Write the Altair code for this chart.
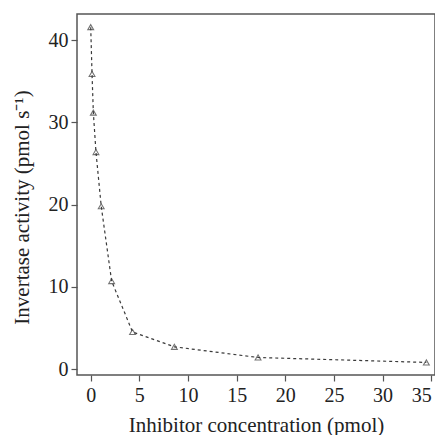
import altair as alt
import pandas as pd

conc = [0, 0.135, 0.27, 0.54, 1.08, 2.15, 4.3, 8.6, 17.2, 34.5]
activity = [41.6, 35.9, 31.2, 26.4, 19.8, 10.7, 4.5, 2.7, 1.4, 0.8]
x_ticks = [0, 5, 10, 15, 20, 25, 30, 35]
y_ticks = [0, 10, 20, 30, 40]

df = pd.DataFrame({"conc": conc, "activity": activity})

FONT = "Liberation Serif"

x = alt.X("conc:Q", scale=alt.Scale(domain=[-1.41, 35.39], nice=False, zero=False),
          axis=alt.Axis(title="Inhibitor concentration (pmol)", values=x_ticks, labelFlush=5,
                        titlePadding=9, labelPadding=4, titleFont=FONT, labelFont=FONT))
y = alt.Y("activity:Q", scale=alt.Scale(domain=[-0.73, 43.2], nice=False, zero=False),
          axis=alt.Axis(title="Invertase activity (pmol s\u207b\u00b9)", values=y_ticks,
                        titlePadding=16, labelPadding=3, titleFont=FONT, labelFont=FONT,
                        titleY=193))

line = alt.Chart(df).mark_line(color="#3a3a3a", strokeWidth=1.2, strokeDash=[3, 3]).encode(x=x, y=y)
pts = alt.Chart(df).mark_point(shape="triangle-up", size=34, color="#3a3a3a", strokeWidth=1.1, filled=False).encode(x=x, y=y)

chart = (line + pts).properties(
    width=358, height=361,
    autosize=alt.AutoSizeParams(type="none"),
    padding={"left": 69, "top": 6, "right": 0, "bottom": 60},
).configure(font=FONT).configure_view(stroke="#555555", strokeWidth=1.5).configure_axis(
    domain=False, grid=False, tickColor="#555555", tickSize=6, tickWidth=1.2,
    labelFontSize=20, titleFontSize=21, labelColor="#222222", titleColor="#222222",
    titleFontWeight="normal",
)

chart.save("out.html", embed_options={"renderer": "svg", "actions": False})
